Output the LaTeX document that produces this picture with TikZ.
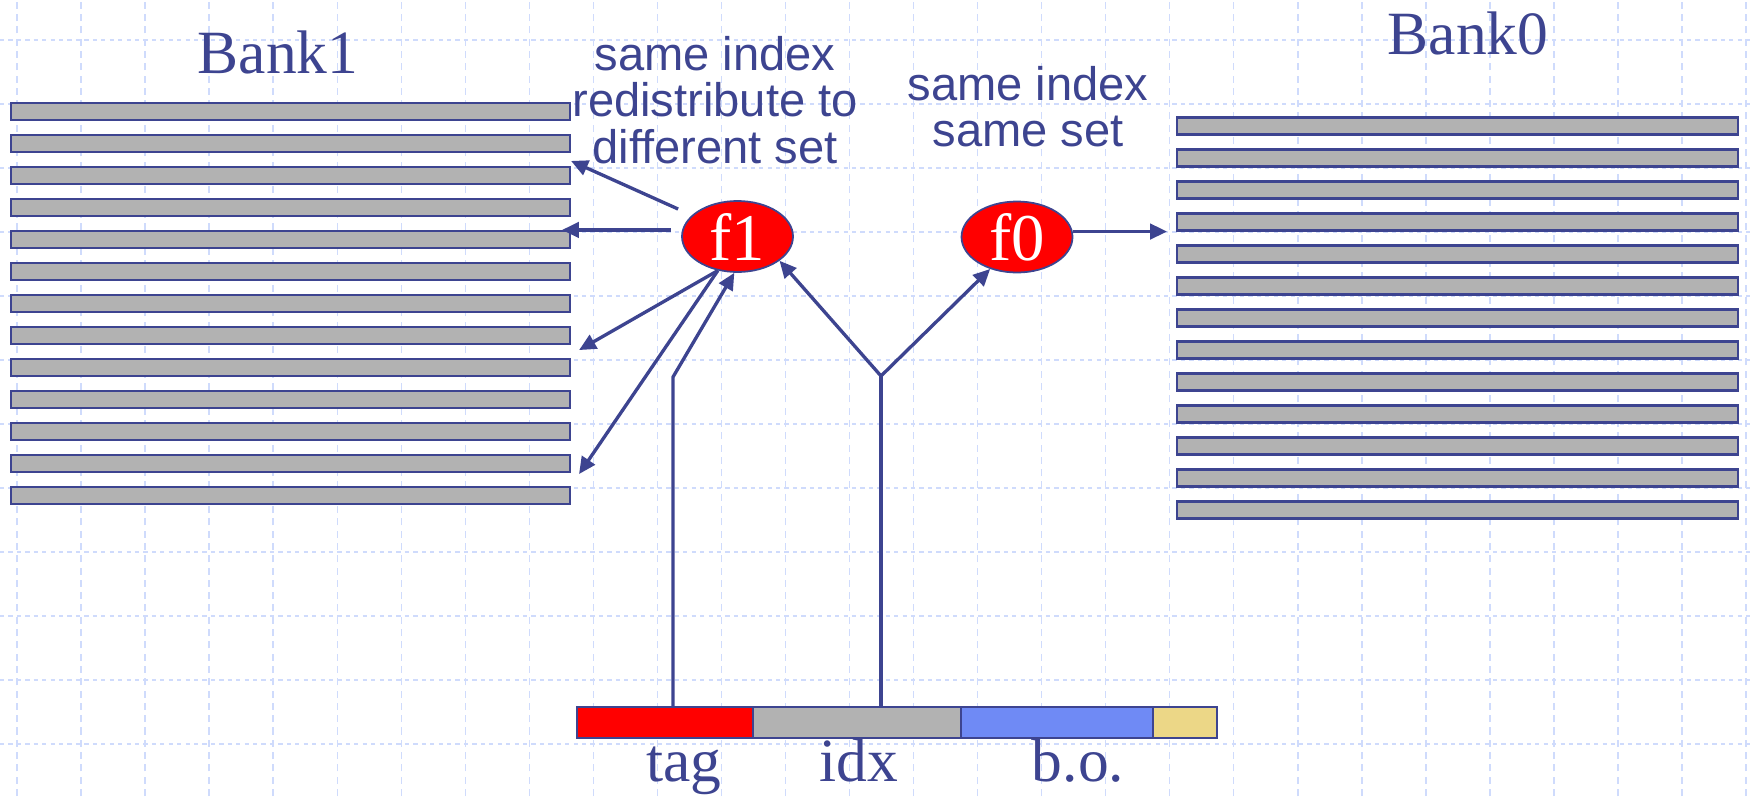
\documentclass[tikz,border=0pt]{standalone}
\usepackage{fontspec}
\setmainfont{Liberation Serif}
\newfontfamily\notefont{Liberation Sans}
\usetikzlibrary{arrows.meta, shapes.geometric, positioning}
\definecolor{ink}{HTML}{3D4490}
\definecolor{line-gray}{HTML}{B2B2B2}
\definecolor{grid-blue}{HTML}{CFDBFC}
\definecolor{bo-blue}{HTML}{6F8AF5}
\definecolor{pad-gold}{HTML}{ECD787}

\begin{document}
\begin{tikzpicture}[
      every node/.style={inner sep=0pt},
      gridline/.style={draw=grid-blue, line width=0.4pt, dash pattern=on 2pt off 1.5pt},
      setline/.style={draw=ink, line width=0.6pt, fill=line-gray,
        minimum width=5.59cm, minimum height=0.17cm},
      hashfn/.style={ellipse, draw=ink, line width=0.5pt, fill=red, text=white,
        minimum width=1.11cm, minimum height=0.71cm, font=\fontsize{19}{19}\selectfont},
      field/.style={draw=ink, line width=0.7pt, outer sep=0pt, minimum height=0.31cm},
      wire/.style={draw=ink, line width=0.95pt},
      arrowline/.style={wire, -{Triangle[length=4.8pt, width=4.4pt]}},
      big/.style={text=ink, font=\fontsize{17.5}{17.5}\selectfont},
      note/.style={text=ink, align=center, font=\notefont\fontsize{13.4}{13.1}\selectfont}]
    \useasboundingbox (0,0) rectangle (17.5,7.96);
    % ---- background grid
    \foreach \k in {0,...,27}
      \draw[gridline] ({0.17+0.6404*\k},0) -- ++(0,7.96);
    \foreach \k in {0,...,11}
      \draw[gridline, line width=0.55pt, dash pattern=on 1.2pt off 1.2pt] (0,{7.56-0.64*\k}) -- ++(17.5,0);
    % ---- the two banks, 13 sets each
    \foreach \i in {1,...,13} {
      \node[setline] (b1-\i) at (2.905,{6.845-0.32*(\i-1)}) {};
      \node[setline, minimum width=5.61cm] (b0-\i) at (14.575,{6.70-0.32*(\i-1)}) {};
    }
    \node[big, anchor=base] (bank1) at (2.78,7.23) {Bank1};
    \node[big, anchor=base] (bank0) at (14.68,7.41) {Bank0};
    % base sits on the last line
    \node[note, anchor=base] (note1) at (7.15,6.33) {same index\\redistribute to\\different set};
    \node[note, anchor=base] (note0) at (10.28,6.49) {same index\\same set};
    % ---- index functions
    \node[hashfn] (f1) at (7.375,5.595) {f1};
    \node[hashfn] (f0) at (10.17,5.59) {f0};
    % ---- address fields
    \node[field, fill=red, minimum width=1.76cm] (tag) at (6.65,0.735) {};
    \node[field, fill=line-gray, minimum width=2.08cm, right=0pt of tag] (idx) {};
    \node[field, fill=bo-blue, minimum width=1.92cm, right=0pt of idx] (bo) {};
    \node[field, fill=pad-gold, minimum width=0.64cm, right=0pt of bo] (pad) {};
    \node[big, anchor=base] (tagtext) at (6.84,0.15) {tag};
    \node[big, anchor=base] (idxtext) at (8.59,0.15) {idx};
    \node[big, anchor=base] (botext) at (10.78,0.15) {b.o.};
    % ---- tag and idx feed the functions
    \coordinate (tagbend) at (6.73,4.19);
    \coordinate (idxfork) at (8.81,4.20);
    \draw[arrowline] (tagbend |- tag.north) -- (tagbend) -- (f1.265);
    \draw[wire] (idxfork |- idx.north) -- (idxfork);
    \draw[arrowline] (idxfork) -- (f1.-30);
    \draw[arrowline] (idxfork) -- (f0.230);
    % ---- f1 spreads over bank1, f0 keeps the set
    \draw[arrowline, shorten <=1.5mm] (f1.155) -- ([yshift=0.5mm]b1-3.north east);
    \draw[arrowline, shorten <=1mm] (f1.west |- b1-5.north) -- ([xshift=-0.9mm]b1-5.north east);
    \draw[arrowline] (f1.240) -- ([shift={(0.8mm,-0.5mm)}]b1-8.south east);
    \draw[arrowline] (f1.240) -- ([shift={(0.8mm,-0.1mm)}]b1-12.south east);
    \draw[arrowline] (f0.east |- b0-4.south) -- ([xshift=-0.9mm]b0-4.south west);
  \end{tikzpicture}
\end{document}
